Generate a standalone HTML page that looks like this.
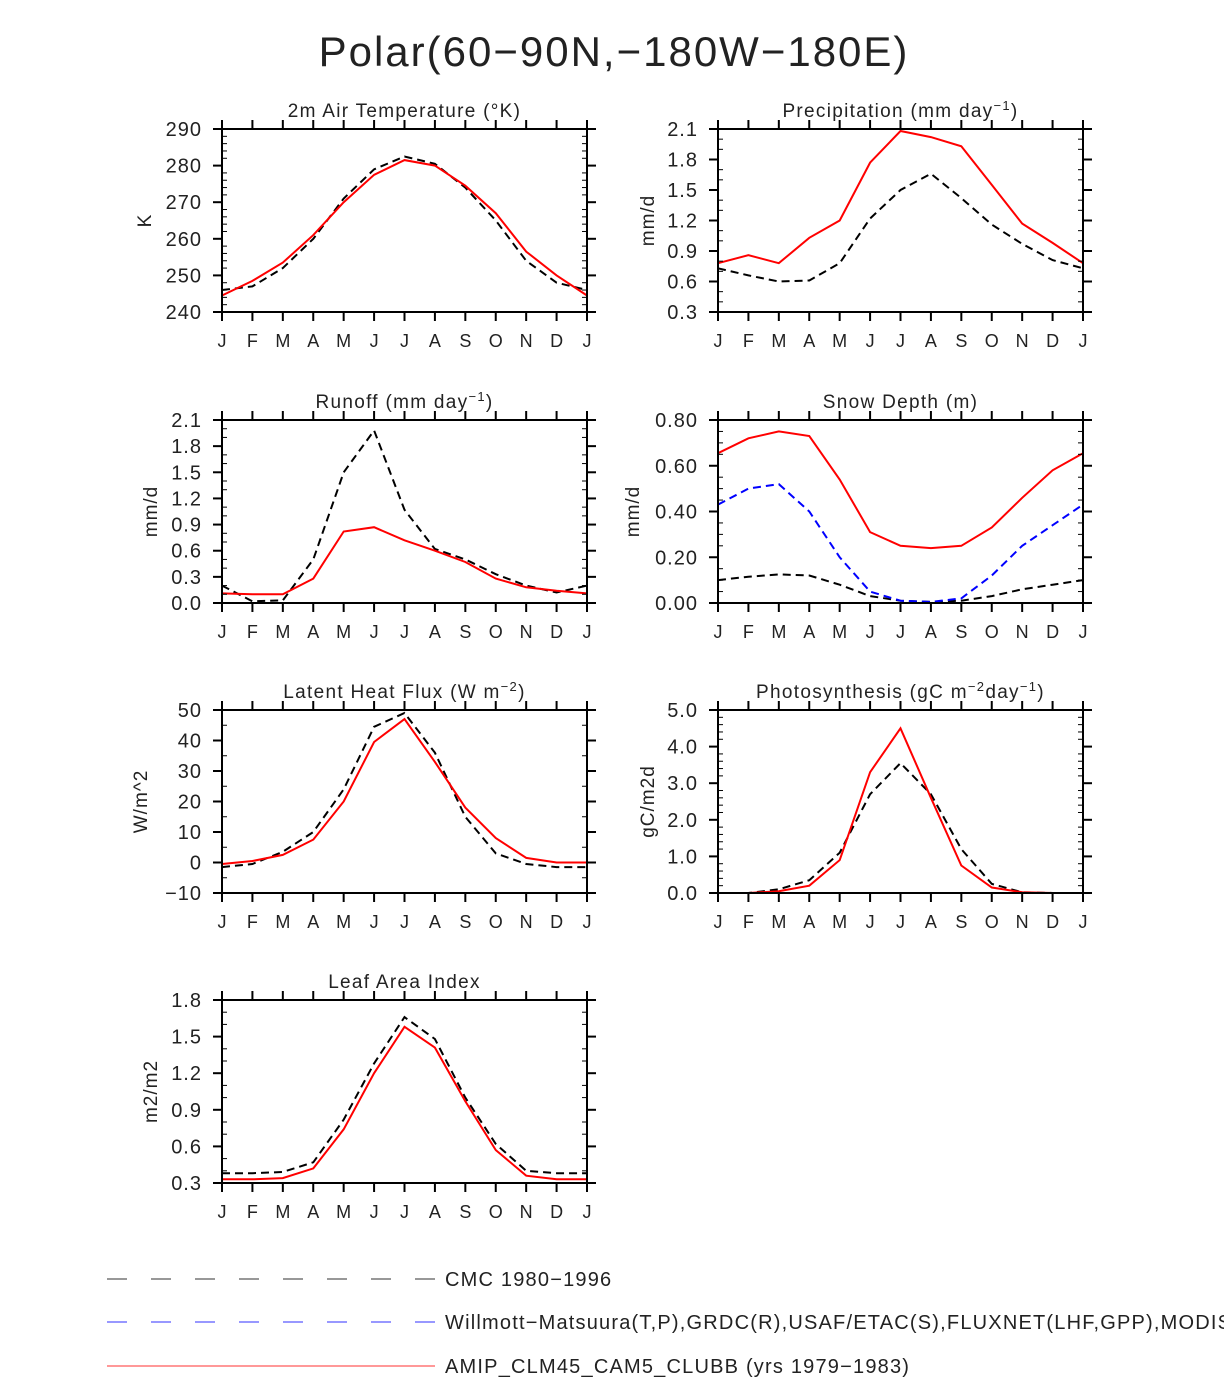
<!DOCTYPE html>
<html><head><meta charset="utf-8"><style>
html,body{margin:0;padding:0;background:#fff;overflow:hidden;}
svg{display:block;font-family:"Liberation Sans",sans-serif;}
</style></head><body>
<svg id="chart" width="1224" height="1379" viewBox="0 0 1224 1379">
<text x="614" y="66" font-size="42" text-anchor="middle" fill="#222" letter-spacing="2">Polar(60−90N,−180W−180E)</text>
<g id="panels"></g>
<g>
<g>
<line x1="107" y1="1279" x2="435" y2="1279" stroke="#777" stroke-width="1.5" stroke-dasharray="20,24"/>
<text x="445" y="1286" font-size="20" fill="#222" letter-spacing="1.2">CMC 1980−1996</text></g>
<g>
<line x1="107" y1="1322" x2="435" y2="1322" stroke="#77f" stroke-width="1.5" stroke-dasharray="20,24"/>
<text x="445" y="1329" font-size="20" fill="#222" letter-spacing="1.2">Willmott−Matsuura(T,P),GRDC(R),USAF/ETAC(S),FLUXNET(LHF,GPP),MODIS(LAI)</text></g>
<g>
<line x1="107" y1="1366" x2="435" y2="1366" stroke="#f77" stroke-width="1.5"/>
<text x="445" y="1373" font-size="20" fill="#222" letter-spacing="1.2">AMIP_CLM45_CAM5_CLUBB (yrs 1979−1983)</text></g>
</g>
</svg>
<script>
const months=["J","F","M","A","M","J","J","A","S","O","N","D","J"];
const tempCMC=[246,247,252,260,271,279,282.5,280.5,274,265,254,248,246];
const tempModel=[244.5,248.5,253.5,261,270,277.5,281.5,280,274.5,267,256.5,250,244.5];
const precipObs=[0.73,0.66,0.6,0.61,0.78,1.22,1.5,1.66,1.42,1.16,0.97,0.81,0.73];
const precipModel=[0.78,0.86,0.78,1.03,1.2,1.77,2.08,2.02,1.93,1.55,1.17,0.98,0.78];
const runoffObs=[0.2,0.02,0.03,0.5,1.5,1.98,1.07,0.62,0.5,0.33,0.2,0.12,0.2];
const runoffModel=[0.11,0.1,0.1,0.28,0.82,0.87,0.72,0.6,0.47,0.28,0.18,0.14,0.11];
const snowCMC=[0.1,0.115,0.125,0.12,0.08,0.03,0.01,0.005,0.01,0.03,0.06,0.08,0.1];
const snowObs=[0.43,0.5,0.52,0.4,0.2,0.05,0.01,0.005,0.02,0.12,0.25,0.34,0.43];
const snowModel=[0.655,0.72,0.75,0.73,0.54,0.31,0.25,0.24,0.25,0.33,0.46,0.58,0.655];
const lhfObs=[-1.5,-0.5,3.5,10,24,44.5,49,36,15,3,-0.5,-1.5,-1.5];
const lhfModel=[-0.5,0.5,2.5,7.5,20,39.5,47,33,18,8,1.5,0,0];
const gppObs=[0,0,0.1,0.35,1.1,2.7,3.55,2.7,1.2,0.25,0.02,0,0];
const gppModel=[0,0,0.05,0.2,0.9,3.3,4.5,2.6,0.75,0.15,0.02,0,0];
const laiObs=[0.38,0.38,0.39,0.47,0.82,1.28,1.66,1.48,1.0,0.62,0.4,0.38,0.38];
const laiModel=[0.33,0.33,0.34,0.42,0.74,1.2,1.58,1.41,0.97,0.57,0.36,0.33,0.33];
const tempTicks=["240","250","260","270","280","290"];
const precipTicks=["0.3","0.6","0.9","1.2","1.5","1.8","2.1"];
const runoffTicks=["0.0","0.3","0.6","0.9","1.2","1.5","1.8","2.1"];
const snowTicks=["0.00","0.20","0.40","0.60","0.80"];
const lhfTicks=["-10","0","10","20","30","40","50"];
const gppTicks=["0.0","1.0","2.0","3.0","4.0","5.0"];
const laiTicks=["0.3","0.6","0.9","1.2","1.5","1.8"];

const NS="http://www.w3.org/2000/svg";
function mk(tag,attrs,parent){const e=document.createElementNS(NS,tag);for(const k in attrs)e.setAttribute(k,attrs[k]);parent.appendChild(e);return e;}
const root=document.getElementById("panels");
const panels=[
 {name:"air-temperature",x:222,y:129,ylx:145,title:["2m Air Temperature (°K)"],yl:"K",ticks:tempTicks,minor:5,series:[[tempCMC,"#000",true],[tempModel,"red",false]]},
 {name:"precipitation",x:718,y:129,ylx:648,title:["Precipitation (mm day","-1",")"],yl:"mm/d",ticks:precipTicks,minor:3,series:[[precipObs,"#000",true],[precipModel,"red",false]]},
 {name:"runoff",x:222,y:420,ylx:151,title:["Runoff (mm day","-1",")"],yl:"mm/d",ticks:runoffTicks,minor:3,series:[[runoffObs,"#000",true],[runoffModel,"red",false]]},
 {name:"snow-depth",x:718,y:420,ylx:633,title:["Snow Depth (m)"],yl:"mm/d",ticks:snowTicks,minor:4,series:[[snowCMC,"#000",true],[snowObs,"blue",true],[snowModel,"red",false]]},
 {name:"latent-heat-flux",x:222,y:710,ylx:141,title:["Latent Heat Flux (W m","-2",")"],yl:"W/m^2",ticks:lhfTicks,minor:2,series:[[lhfObs,"#000",true],[lhfModel,"red",false]]},
 {name:"photosynthesis",x:718,y:710,ylx:648,title:["Photosynthesis (gC m","-2","day","-1",")"],yl:"gC/m2d",ticks:gppTicks,minor:5,series:[[gppObs,"#000",true],[gppModel,"red",false]]},
 {name:"leaf-area-index",x:222,y:1000,ylx:151,title:["Leaf Area Index"],yl:"m2/m2",ticks:laiTicks,minor:3,series:[[laiObs,"#000",true],[laiModel,"red",false]]}
];
const W=365,H=183;
panels.forEach(p=>{
 const g=mk("g",{},root);
 
 
 const tv=p.ticks.map(Number);const y0=tv[0],y1=tv[tv.length-1];
 const sx=i=>p.x+i*W/12;
 const sy=v=>p.y+H-(v-y0)/(y1-y0)*H;
 p.series.forEach((s,si)=>{
  const pts=s[0].map((v,i)=>sx(i).toFixed(1)+","+sy(v).toFixed(1)).join(" ");
  const l=mk("polyline",{points:pts,fill:"none",stroke:s[1],"stroke-width":2,"stroke-dasharray":s[2]?"8,5":"none"},g);
  
  
 });
 const ax=mk("g",{stroke:"#000","stroke-width":2},g);
 
 
 mk("rect",{x:p.x,y:p.y,width:W,height:H,fill:"none"},ax);
 months.forEach((m,i)=>{
  const x=sx(i);
  mk("line",{x1:x,y1:p.y+H,x2:x,y2:p.y+H+9},ax);
  mk("line",{x1:x,y1:p.y,x2:x,y2:p.y-9},ax);
  const t=mk("text",{x:x,y:p.y+H+35,"font-size":18,"text-anchor":"middle",fill:"#222",stroke:"none"},g);
  t.textContent=m;
  
  
 });
 const step=(y1-y0)/(tv.length-1);
 tv.forEach((v,i)=>{
  const y=sy(v);
  mk("line",{x1:p.x-9,y1:y,x2:p.x,y2:y},ax);
  mk("line",{x1:p.x+W,y1:y,x2:p.x+W+9,y2:y},ax);
  if(i<tv.length-1){for(let k=1;k<p.minor;k++){const yy=sy(v+step*k/p.minor);
   mk("line",{x1:p.x,y1:yy,x2:p.x+5,y2:yy,"stroke-width":1},ax);
   mk("line",{x1:p.x+W-5,y1:yy,x2:p.x+W,y2:yy,"stroke-width":1},ax);}}
  const t=mk("text",{x:p.x-20,y:y+7,"font-size":20,"text-anchor":"end",fill:"#222","letter-spacing":1},g);
  t.textContent=p.ticks[i].replace("-","−");
  
  
 });
 const tt=mk("text",{x:p.x+W/2,y:p.y-12,"font-size":19,"text-anchor":"middle",fill:"#222","letter-spacing":1.3},g);
 p.title.forEach((part,k)=>{
  const sup=k%2===1;
  const ts=mk("tspan",{"font-size":sup?13:19,"baseline-shift":sup?"super":"baseline"},tt);
  ts.textContent=part.replace("-","−");
 });
 
 
 const lx=p.ylx,ly=p.y+H/2;
 const yl=mk("text",{x:lx,y:ly+6,"font-size":19,"text-anchor":"middle",fill:"#222","letter-spacing":1,transform:`rotate(-90 ${lx} ${ly})`},g);
 yl.textContent=p.yl;
 
 
});
</script>
</body></html>
